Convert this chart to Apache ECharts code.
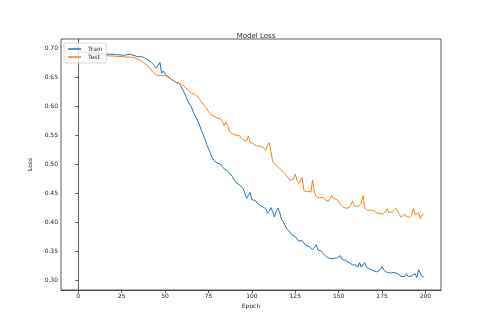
<!DOCTYPE html>
<html>
<head>
<meta charset="utf-8">
<script src="https://cdn.jsdelivr.net/npm/echarts@6/dist/echarts.min.js"></script>
<style>html,body{margin:0;padding:0;background:#fff}#c{width:490px;height:326px}</style>
</head>
<body>
<div id="c"></div>
<script>
const xTicks = [0, 25, 50, 75, 100, 125, 150, 175, 200];
const yTicks = [0.30, 0.35, 0.40, 0.45, 0.50, 0.55, 0.60, 0.65, 0.70];
const train = [
0.695,0.694,0.694,0.693,0.693,0.693,0.692,0.692,0.692,0.692,
0.692,0.691,0.691,0.691,0.691,0.690,0.690,0.690,0.690,0.690,
0.690,0.690,0.689,0.689,0.689,0.689,0.688,0.689,0.689,0.690,
0.690,0.689,0.688,0.687,0.686,0.686,0.686,0.685,0.684,0.682,
0.680,0.678,0.676,0.673,0.670,0.666,0.663,0.676,0.657,0.661,
0.656,0.653,0.651,0.648,0.646,0.644,0.642,0.640,0.640,0.635,
0.630,0.624,0.617,0.610,0.604,0.600,0.592,0.585,0.583,0.574,
0.566,0.558,0.551,0.543,0.534,0.527,0.520,0.512,0.507,0.504,
0.502,0.500,0.500,0.496,0.492,0.491,0.489,0.485,0.482,0.478,
0.472,0.468,0.466,0.464,0.462,0.458,0.449,0.441,0.446,0.451,
0.439,0.438,0.437,0.434,0.430,0.428,0.427,0.426,0.423,0.415,
0.419,0.425,0.418,0.409,0.418,0.424,0.417,0.405,0.401,0.395,
0.389,0.388,0.383,0.378,0.376,0.375,0.378,0.367,0.364,0.368,
0.364,0.360,0.360,0.358,0.356,0.352,0.355,0.361,0.352,0.349,
0.350,0.346,0.343,0.340,0.338,0.337,0.336,0.337,0.336,0.338,
0.341,0.342,0.335,0.333,0.334,0.332,0.330,0.328,0.326,0.323,
0.326,0.322,0.330,0.322,0.321,0.330,0.322,0.320,0.319,0.318,
0.316,0.314,0.314,0.316,0.318,0.323,0.317,0.314,0.313,0.313,
0.312,0.313,0.313,0.312,0.311,0.309,0.306,0.305,0.306,0.311,
0.306,0.304,0.307,0.305,0.311,0.304,0.318,0.319,0.306,0.305
];
const test = [
0.695,0.694,0.694,0.693,0.693,0.692,0.692,0.691,0.691,0.690,
0.690,0.690,0.689,0.689,0.689,0.688,0.688,0.688,0.687,0.687,
0.687,0.687,0.686,0.686,0.686,0.686,0.686,0.685,0.685,0.685,
0.685,0.684,0.684,0.683,0.682,0.681,0.679,0.677,0.675,0.673,
0.670,0.667,0.663,0.659,0.656,0.654,0.653,0.653,0.653,0.653,
0.653,0.652,0.650,0.648,0.646,0.644,0.642,0.640,0.639,0.639,
0.638,0.635,0.632,0.628,0.625,0.623,0.622,0.621,0.619,0.616,
0.612,0.608,0.604,0.600,0.596,0.591,0.587,0.585,0.583,0.582,
0.580,0.581,0.578,0.574,0.567,0.573,0.567,0.557,0.554,0.552,
0.551,0.550,0.551,0.549,0.546,0.542,0.540,0.540,0.549,0.538,
0.536,0.535,0.533,0.531,0.530,0.531,0.531,0.528,0.524,0.533,
0.537,0.522,0.505,0.501,0.498,0.496,0.494,0.490,0.487,0.484,
0.480,0.476,0.472,0.472,0.474,0.483,0.472,0.467,0.464,0.477,
0.454,0.454,0.453,0.453,0.452,0.473,0.452,0.444,0.443,0.442,
0.442,0.443,0.439,0.436,0.436,0.441,0.446,0.441,0.440,0.439,
0.436,0.431,0.427,0.425,0.424,0.424,0.425,0.430,0.436,0.428,
0.426,0.427,0.425,0.432,0.446,0.424,0.421,0.420,0.421,0.421,
0.419,0.418,0.416,0.415,0.415,0.414,0.413,0.417,0.423,0.416,
0.416,0.418,0.421,0.424,0.419,0.413,0.408,0.410,0.414,0.410,
0.407,0.408,0.412,0.423,0.412,0.414,0.417,0.406,0.412,0.413
];
const epochs = train.map((_, i) => i);
const font = 'DejaVu Sans';
const txt = '#262626';
const chart = echarts.init(document.getElementById('c'), null, {renderer: 'canvas'});
chart.setOption({
  animation: false,
  backgroundColor: '#fff',
  textStyle: {fontFamily: font},
  title: {
    text: 'Model Loss', left: 251, top: 28, textAlign: 'center',
    textStyle: {fontSize: 7, fontWeight: 'normal', color: txt, fontFamily: font}
  },
  legend: {
    left: 64, top: 43, orient: 'vertical', itemGap: 2,
    itemWidth: 13, itemHeight: 1.5, icon: 'rect',
    padding: [3, 4, 3, 4],
    borderColor: '#d0d0d0', borderWidth: 0.8, borderRadius: 2, backgroundColor: 'rgba(255,255,255,0.8)',
    textStyle: {fontSize: 6, color: txt, fontFamily: font, padding: [0, 0, 0, 2]},
    data: ['Train', 'Test']
  },
  grid: {
    left: 61, right: 49, top: 39, bottom: 36,
    show: true, borderColor: '#333', borderWidth: 0.8, backgroundColor: 'transparent'
  },
  xAxis: {
    type: 'value', min: -9.95, max: 208.95,
    name: 'Epoch', nameLocation: 'middle', nameGap: 13,
    nameTextStyle: {fontSize: 6, color: txt, fontFamily: font},
    axisLine: {show: true, lineStyle: {color: '#333', width: 0.8}},
    axisTick: {show: true, inside: false, length: 3, customValues: xTicks, lineStyle: {color: '#333', width: 0.8}},
    axisLabel: {fontSize: 6, color: txt, margin: 3, customValues: xTicks, fontFamily: font},
    splitLine: {show: false}
  },
  yAxis: {
    type: 'value', min: 0.2827, max: 0.7163,
    name: 'Loss', nameLocation: 'middle', nameGap: 21, nameRotate: 90,
    nameTextStyle: {fontSize: 6, color: txt, fontFamily: font},
    axisLine: {show: true, lineStyle: {color: '#333', width: 0.8}},
    axisTick: {show: true, inside: false, length: 3, customValues: yTicks, lineStyle: {color: '#333', width: 0.8}},
    axisLabel: {fontSize: 6, color: txt, margin: 3, customValues: yTicks, fontFamily: font,
      formatter: v => v.toFixed(2)},
    splitLine: {show: false}
  },
  series: [
    {name: 'Train', type: 'line', showSymbol: false, symbol: 'none',
     data: epochs.map(i => [i, train[i]]),
     lineStyle: {color: '#1f77b4', width: 1}, itemStyle: {color: '#1f77b4'}},
    {name: 'Test', type: 'line', showSymbol: false, symbol: 'none',
     data: epochs.map(i => [i, test[i]]),
     lineStyle: {color: '#ff7f0e', width: 1}, itemStyle: {color: '#ff7f0e'}}
  ]
});
</script>
</body>
</html>
